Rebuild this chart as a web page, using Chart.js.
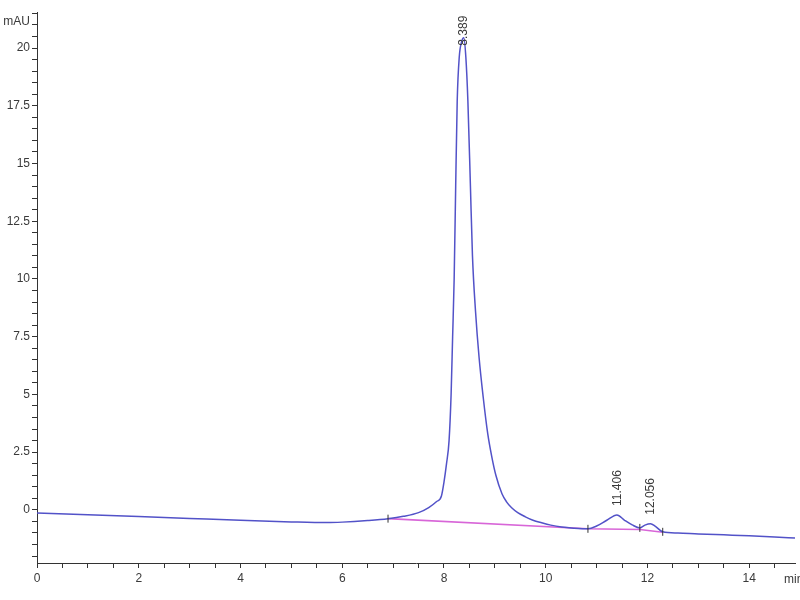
<!DOCTYPE html>
<html lang="en">
<head>
    <meta charset="UTF-8">
    <title>Chromatogram</title>
    <script src="https://cdn.jsdelivr.net/npm/chart.js"></script>
    <style>
        html, body { margin: 0; padding: 0; background: #fff; }
        #wrap { width: 800px; height: 600px; }
    </style>
</head>
<body>
    <div id="wrap"><canvas id="chromChart"></canvas></div>

    <script>
        // Signal trace (min, mAU)
        const times = [0.0, 1.0, 2.0, 3.0, 4.0, 5.0, 5.7, 6.0, 6.5, 6.9, 7.2, 7.5, 7.7, 7.85, 7.95,
            8.0, 8.05, 8.1, 8.14, 8.17, 8.2, 8.23, 8.26, 8.3, 8.35, 8.39, 8.43, 8.47, 8.52, 8.56,
            8.62, 8.69, 8.77, 8.86, 8.94, 9.02, 9.14, 9.23, 9.33, 9.45, 9.6, 9.75, 9.92,
            10.1, 10.31, 10.55, 10.83, 11.0, 11.2, 11.4, 11.55, 11.7, 11.85, 11.95, 12.06, 12.15,
            12.3, 12.6, 13.0, 13.5, 14.0, 14.5, 14.9];
        const signal = [-0.13, -0.21, -0.29, -0.37, -0.45, -0.52, -0.55, -0.53, -0.46, -0.38, -0.28,
            -0.12, 0.1, 0.35, 0.6, 1.2, 2.0, 3.0, 5.0, 7.5, 10.0, 14.0, 17.7, 19.6, 20.3, 20.45,
            19.6, 17.7, 14.0, 11.0, 8.6, 6.6, 4.9, 3.3, 2.3, 1.5, 0.7, 0.35, 0.09, -0.12,
            -0.3, -0.45, -0.56, -0.66, -0.74, -0.79, -0.82, -0.7, -0.45, -0.22, -0.45, -0.65,
            -0.78, -0.66, -0.6, -0.7, -0.95, -1.0, -1.04, -1.08, -1.12, -1.17, -1.22];

        // Integration baseline
        const baseTimes = [6.9, 10.83, 11.85, 12.3];
        const baseValues = [-0.38, -0.82, -0.85, -0.97];

        // Peak boundary marks
        const markTimes = [6.9, 10.83, 11.85, 12.3];
        const markValues = [-0.38, -0.82, -0.78, -0.95];

        // Peak apex labels
        const peakTimes = [8.389, 11.406, 12.056];
        const peakValues = [20.45, -0.22, -0.6];
        const peakLabels = ['8.389', '11.406', '12.056'];

        const FONT = '"Liberation Sans", Arial, sans-serif';
        const TEXT = '#3a3a3a';

        const toXY = (xs, ys) => xs.map((x, i) => ({ x: x, y: ys[i] }));

        const isMultiple = (v, step) => Math.abs(v / step - Math.round(v / step)) < 1e-6;

        const annotations = {
            id: 'annotations',
            afterDraw(chart) {
                const ctx = chart.ctx;
                const xs = chart.scales.x;
                const ys = chart.scales.y;
                ctx.save();
                ctx.fillStyle = TEXT;
                ctx.font = '12px ' + FONT;

                // axis units
                ctx.textAlign = 'right';
                ctx.textBaseline = 'middle';
                ctx.fillText('mAU', 30, 22);
                ctx.textAlign = 'left';
                ctx.fillText('min', 784, 580);

                // peak labels, rotated
                const offsets = [-8, 9, 9];
                peakTimes.forEach((t, i) => {
                    const px = xs.getPixelForValue(t);
                    const py = ys.getPixelForValue(peakValues[i]) - offsets[i];
                    ctx.save();
                    ctx.translate(px, py);
                    ctx.rotate(-Math.PI / 2);
                    ctx.textAlign = 'left';
                    ctx.textBaseline = 'middle';
                    ctx.fillText(peakLabels[i], 0, 0);
                    ctx.restore();
                });
                ctx.restore();
            }
        };

        new Chart(document.getElementById('chromChart'), {
            type: 'scatter',
            data: {
                datasets: [
                    {
                        label: 'Baseline',
                        data: toXY(baseTimes, baseValues),
                        showLine: true,
                        borderColor: '#d866d8',
                        borderWidth: 1.6,
                        pointRadius: 0,
                        order: 2
                    },
                    {
                        label: 'Signal',
                        data: toXY(times, signal),
                        showLine: true,
                        borderColor: '#5252c8',
                        borderWidth: 1.5,
                        pointRadius: 0,
                        cubicInterpolationMode: 'monotone',
                        order: 1
                    },
                    {
                        label: 'Marks',
                        data: toXY(markTimes, markValues),
                        showLine: false,
                        pointStyle: 'line',
                        rotation: 90,
                        radius: 4,
                        borderColor: '#333',
                        borderWidth: 1,
                        order: 0
                    }
                ]
            },
            options: {
                responsive: true,
                maintainAspectRatio: false,
                animation: false,
                layout: { padding: { top: 12, right: 3, left: 0, bottom: 0 } },
                plugins: {
                    legend: { display: false },
                    tooltip: { enabled: false }
                },
                scales: {
                    x: {
                        type: 'linear',
                        min: 0,
                        max: 14.9,
                        afterFit(scale) { scale.height = 37; },
                        grid: { drawOnChartArea: false, tickLength: 5, color: '#333' },
                        border: { display: true, color: '#333', width: 1 },
                        ticks: {
                            stepSize: 0.5,
                            autoSkip: false,
                            maxRotation: 0,
                            includeBounds: false,
                            padding: 3,
                            color: TEXT,
                            font: { family: FONT, size: 12 },
                            callback: (v) => isMultiple(v, 2) ? String(v) : ''
                        }
                    },
                    y: {
                        type: 'linear',
                        min: -2.3,
                        max: 21.56,
                        afterFit(scale) { scale.width = 37; },
                        grid: { drawOnChartArea: false, tickLength: 5, color: '#333' },
                        border: { display: true, color: '#333', width: 1 },
                        ticks: {
                            stepSize: 0.5,
                            autoSkip: false,
                            includeBounds: false,
                            padding: 2,
                            color: TEXT,
                            font: { family: FONT, size: 12 },
                            callback: (v) => (v >= 0 && isMultiple(v, 2.5)) ? String(v) : ''
                        }
                    }
                }
            },
            plugins: [annotations]
        });
    </script>
</body>
</html>
